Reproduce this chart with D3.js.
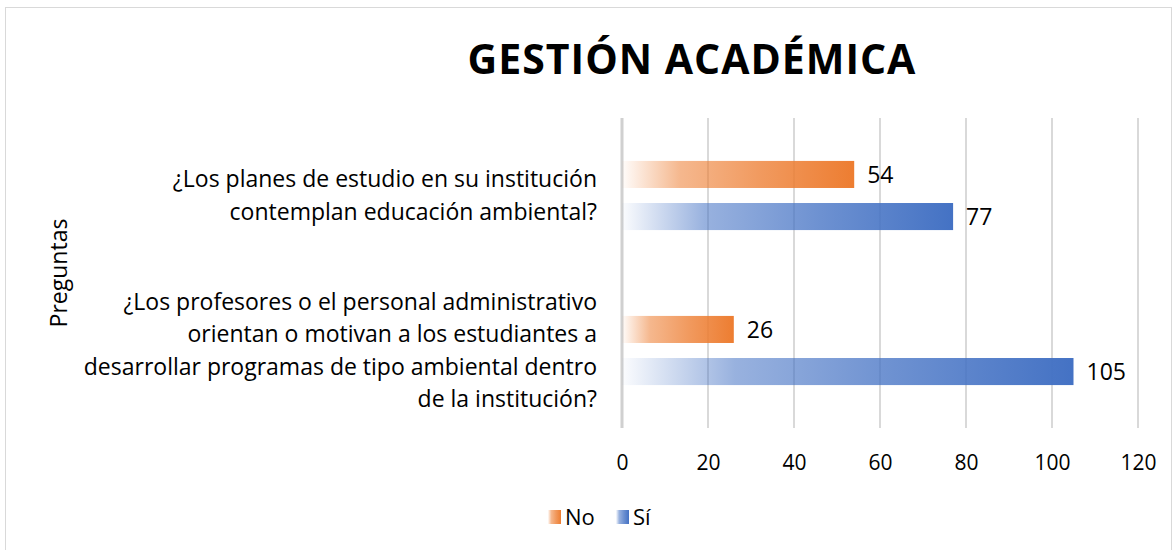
<!DOCTYPE html>
<html>
<head>
<meta charset="utf-8">
<script src="https://cdn.jsdelivr.net/npm/d3@7"></script>
<style>
  body { margin: 0; background: #fff; }
  text { font-family: "Open Sans", "Liberation Sans", sans-serif; fill: #000; }
</style>
</head>
<body>
<svg id="chart" width="1174" height="550"></svg>
<script>
// --- data ---
const categories = [
  "¿Los planes de estudio en su institución contemplan educación ambiental?",
  "¿Los profesores o el personal administrativo orientan o motivan a los estudiantes a desarrollar programas de tipo ambiental dentro de la institución?"
];
const categoryLines = [
  ["¿Los planes de estudio en su institución", "contemplan educación ambiental?"],
  ["¿Los profesores o el personal administrativo", "orientan o motivan a los estudiantes a",
   "desarrollar programas de tipo ambiental dentro", "de la institución?"]
];
const seriesNames = ["No", "Sí"];
const noValues = [54, 26];
const siValues = [77, 105];
const xTicks = [0, 20, 40, 60, 80, 100, 120];
const seriesColors = ["#ED7D31", "#4472C4"];

const svg = d3.select("#chart");
const margin = {left: 622, right: 36, top: 118, bottom: 122};
const W = 1174, H = 550;

// outer frame
svg.append("rect").attr("x", 5.5).attr("y", 7.5).attr("width", W - 8).attr("height", H - 6)
  .attr("fill", "#fff").attr("stroke", "#d9d9d9").attr("stroke-width", 1);

// gradients
const defs = svg.append("defs");
seriesColors.forEach((c, i) => {
  const g = defs.append("linearGradient").attr("id", "grad" + i)
    .attr("x1", "0%").attr("x2", "100%").attr("y1", "0%").attr("y2", "0%");
  g.append("stop").attr("offset", "0%").attr("stop-color", c).attr("stop-opacity", 0.02);
  g.append("stop").attr("offset", "25%").attr("stop-color", c).attr("stop-opacity", 0.55);
  g.append("stop").attr("offset", "60%").attr("stop-color", c).attr("stop-opacity", 0.78);
  g.append("stop").attr("offset", "100%").attr("stop-color", c).attr("stop-opacity", 1);
});

const x = d3.scaleLinear().domain([0, 120]).range([margin.left, W - margin.right]);
const y = d3.scaleBand().domain(categories).range([margin.top, H - margin.bottom]);
const inner = d3.scaleBand().domain(seriesNames).range([0, y.bandwidth()]).paddingInner(0.357).paddingOuter(1.02);

// gridlines
svg.append("g").selectAll("line").data(xTicks).enter().append("line")
  .attr("x1", d => x(d)).attr("x2", d => x(d))
  .attr("y1", margin.top).attr("y2", H - margin.bottom)
  .attr("stroke", d => d === 0 ? "#d0d0d0" : "#d9d9d9")
  .attr("stroke-width", d => d === 0 ? 3 : 2);

// x axis labels
const xAxis = d3.axisBottom(x).tickValues(xTicks).tickSize(0).tickPadding(0);
const gx = svg.append("g").attr("transform", `translate(0,${H - margin.bottom})`).call(xAxis);
gx.select(".domain").remove();
gx.selectAll("text").attr("font-size", 21).attr("dy", "0").attr("y", 42)
  .style("font-family", "'Open Sans', sans-serif").attr("fill", "#000");

// bars
const rows = categories.map((c, i) => ({cat: c, vals: [noValues[i], siValues[i]]}));
rows.forEach(r => {
  r.vals.forEach((v, s) => {
    const yy = y(r.cat) + inner(seriesNames[s]);
    svg.append("rect")
      .attr("x", x(0)).attr("y", yy)
      .attr("width", x(v) - x(0)).attr("height", inner.bandwidth())
      .attr("fill", `url(#grad${s})`);
    svg.append("text")
      .attr("x", x(v) + 13).attr("y", yy + inner.bandwidth() / 2)
      .attr("dy", "0.35em").attr("font-size", 23).text(v);
  });
});

// category labels
categories.forEach((c, i) => {
  const lines = categoryLines[i];
  const lh = 32.5;
  const cy = y(c) + y.bandwidth() / 2;
  const t = svg.append("text").attr("text-anchor", "end").attr("font-size", 23);
  lines.forEach((l, k) => {
    t.append("tspan").attr("x", 597)
      .attr("y", cy + (k - (lines.length - 1) / 2) * lh)
      .attr("dy", "0.35em").text(l);
  });
});

// y axis title
svg.append("text")
  .attr("transform", `translate(67,${(margin.top + H - margin.bottom) / 2}) rotate(-90)`)
  .attr("text-anchor", "middle").attr("font-size", 23).text("Preguntas");

// title
svg.append("text").attr("x", 692).attr("y", 74).attr("text-anchor", "middle")
  .attr("font-size", 41).attr("font-weight", "bold").attr("letter-spacing", 1)
  .text("GESTIÓN ACADÉMICA");

// legend
const legend = svg.append("g");
const legendX = [548, 616];
seriesNames.forEach((n, s) => {
  legend.append("rect").attr("x", legendX[s]).attr("y", 510).attr("width", 13).attr("height", 14)
    .attr("fill", `url(#grad${s})`);
  legend.append("text").attr("x", legendX[s] + 17).attr("y", 517).attr("dy", "0.35em")
    .attr("font-size", 22).text(n);
});
</script>
</body>
</html>
